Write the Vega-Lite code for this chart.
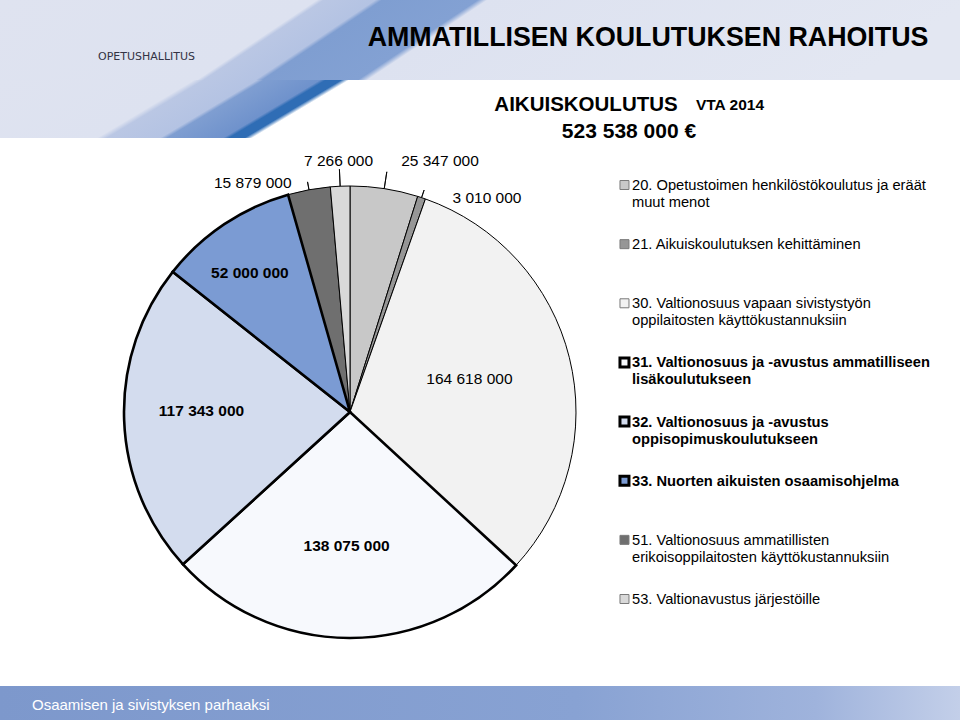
{
  "$schema": "https://vega.github.io/schema/vega-lite/v6.json",
  "background": "white",
  "padding": 0,
  "spacing": 0,
  "bounds": "flush",
  "config": {"view": {"stroke": null}, "font": "Liberation Sans"},
  "datasets": {
    "budget": [
      {"code": "20", "value": 25347000, "label": "25 347 000", "name": "20. Opetustoimen henkilöstökoulutus ja eräät\nmuut menot"},
      {"code": "21", "value": 3010000, "label": "3 010 000", "name": "21. Aikuiskoulutuksen kehittäminen"},
      {"code": "30", "value": 164618000, "label": "164 618 000", "name": "30. Valtionosuus vapaan sivistystyön\noppilaitosten käyttökustannuksiin"},
      {"code": "31", "value": 138075000, "label": "138 075 000", "name": "31. Valtionosuus ja -avustus ammatilliseen\nlisäkoulutukseen"},
      {"code": "32", "value": 117343000, "label": "117 343 000", "name": "32. Valtionosuus ja -avustus\noppisopimuskoulutukseen"},
      {"code": "33", "value": 52000000, "label": "52 000 000", "name": "33. Nuorten aikuisten osaamisohjelma"},
      {"code": "51", "value": 15879000, "label": "15 879 000", "name": "51. Valtionosuus ammatillisten\nerikoisoppilaitosten käyttökustannuksiin"},
      {"code": "53", "value": 7266000, "label": "7 266 000", "name": "53. Valtionavustus järjestöille"}
    ],
    "blank": [{"k": 1}]
  },
  "vconcat": [
    {
      "width": 960,
      "height": 80,
      "data": {"name": "blank"},
      "layer": [
        {"mark": {"type": "rect", "fill": {"gradient": "linear", "x1": 0, "y1": 0, "x2": 1, "y2": 0.125, "stops": [
          {"offset": 0, "color": "#dfe3f0"}, {"offset": 0.325, "color": "#dde2f0"}, {"offset": 0.332, "color": "#bac7e4"},
          {"offset": 0.385, "color": "#b4c3e3"}, {"offset": 0.392, "color": "#7f9ed1"}, {"offset": 0.49, "color": "#83a1d3"},
          {"offset": 0.5, "color": "#dde2f0"}, {"offset": 1, "color": "#e3e7f2"}]}}, "encoding": {}},
        {"mark": {"type": "text", "text": "AMMATILLISEN KOULUTUKSEN RAHOITUS", "fontSize": 26.8, "fontWeight": "bold", "color": "#000000", "align": "center", "baseline": "middle", "dx": 168, "dy": -2}, "encoding": {}},
        {"mark": {"type": "text", "text": "OPETUSHALLITUS", "font": "DejaVu Sans", "fontSize": 11, "color": "#333344", "align": "left", "baseline": "middle", "dx": -382, "dy": 17}, "encoding": {}}
      ]
    },
    {
      "width": 960,
      "height": 58,
      "data": {"name": "blank"},
      "layer": [
        {"mark": {"type": "rect", "fill": {"gradient": "linear", "x1": 0, "y1": 0, "x2": 1, "y2": 0.101, "stops": [
          {"offset": 0, "color": "#dfe3f0"}, {"offset": 0.2, "color": "#dde2f0"}, {"offset": 0.21, "color": "#bac7e4"},
          {"offset": 0.265, "color": "#b4c3e3"}, {"offset": 0.272, "color": "#7f9ed1"}, {"offset": 0.33, "color": "#6f92cc"},
          {"offset": 0.336, "color": "#2f6db5"}, {"offset": 0.352, "color": "#2f6db5"}, {"offset": 0.36, "color": "#ffffff"}, {"offset": 1, "color": "#ffffff"}]}}, "encoding": {}},
        {"mark": {"type": "text", "text": "AIKUISKOULUTUS", "fontSize": 20.5, "fontWeight": "bold", "color": "#000000", "align": "center", "baseline": "middle", "dx": 106, "dy": -4.5}, "encoding": {}},
        {"mark": {"type": "text", "text": "VTA 2014", "fontSize": 15.5, "fontWeight": "bold", "color": "#000000", "align": "center", "baseline": "middle", "dx": 250, "dy": -4}, "encoding": {}},
        {"mark": {"type": "text", "text": "523 538 000 €", "fontSize": 21, "fontWeight": "bold", "color": "#000000", "align": "center", "baseline": "middle", "dx": 149, "dy": 22.5}, "encoding": {}}
      ]
    },
    {
      "width": 700,
      "height": 548,
      "data": {"name": "budget"},
      "layer": [
        {
          "mark": {"type": "arc", "outerRadius": 226, "stroke": "#000000", "strokeWidth": 1},
          "encoding": {
            "theta": {"field": "value", "type": "quantitative", "stack": true},
            "order": {"field": "code", "type": "ordinal"},
            "color": {"field": "code", "type": "nominal", "legend": null,
              "scale": {"domain": ["20","21","30","31","32","33","51","53"], "range": ["#c8c8c8","#969696","#f2f2f2","#f7f9fd","#d3dcee","#7b9bd3","#6f6f6f","#d9d9d9"]}}
          }
        },
        {
          "mark": {"type": "arc", "outerRadius": 226, "stroke": "#000000", "strokeWidth": 2.6},
          "encoding": {
            "theta": {"field": "value", "type": "quantitative", "stack": true},
            "order": {"field": "code", "type": "ordinal"},
            "color": {"field": "code", "type": "nominal", "legend": null},
            "opacity": {"condition": {"test": "indexof(['31','32','33'], datum.code) >= 0", "value": 1}, "value": 0}
          }
        },
        {
          "mark": {"type": "arc", "innerRadius": 226, "outerRadius": 243, "padAngle": 3.14, "fill": "transparent", "stroke": "#000000", "strokeWidth": 0.9},
          "encoding": {
            "theta": {"field": "value", "type": "quantitative", "stack": true},
            "order": {"field": "code", "type": "ordinal"},
            "strokeOpacity": {"condition": {"test": "indexof(['20','53'], datum.code) >= 0", "value": 1}, "value": 0}
          }
        },
        {
          "mark": {"type": "arc", "innerRadius": 226, "outerRadius": 234, "padAngle": 3.14, "fill": "transparent", "stroke": "#000000", "strokeWidth": 0.9},
          "encoding": {
            "theta": {"field": "value", "type": "quantitative", "stack": true},
            "order": {"field": "code", "type": "ordinal"},
            "strokeOpacity": {"condition": {"test": "indexof(['21','51'], datum.code) >= 0", "value": 1}, "value": 0}
          }
        },
        {
          "mark": {"type": "text", "radius": 254, "dx": 51.5, "dy": 0, "fontSize": 15.5, "color": "#000000", "baseline": "middle"},
          "encoding": {
            "theta": {"field": "value", "type": "quantitative", "stack": true},
            "order": {"field": "code", "type": "ordinal"},
            "text": {"condition": {"test": "datum.code === '20'", "field": "label"}, "value": ""}
          }
        },
        {
          "mark": {"type": "text", "radius": 226, "dx": 65.4, "dy": 0, "fontSize": 15.5, "color": "#000000", "baseline": "middle"},
          "encoding": {
            "theta": {"field": "value", "type": "quantitative", "stack": true},
            "order": {"field": "code", "type": "ordinal"},
            "text": {"condition": {"test": "datum.code === '21'", "field": "label"}, "value": ""}
          }
        },
        {
          "mark": {"type": "text", "radius": 123, "dx": 0, "dy": -3, "fontSize": 15.5, "color": "#000000", "baseline": "middle"},
          "encoding": {
            "theta": {"field": "value", "type": "quantitative", "stack": true},
            "order": {"field": "code", "type": "ordinal"},
            "text": {"condition": {"test": "datum.code === '30'", "field": "label"}, "value": ""}
          }
        },
        {
          "mark": {"type": "text", "radius": 134, "dx": -3, "dy": 0, "fontSize": 15.5, "fontWeight": "bold", "color": "#000000", "baseline": "middle"},
          "encoding": {
            "theta": {"field": "value", "type": "quantitative", "stack": true},
            "order": {"field": "code", "type": "ordinal"},
            "text": {"condition": {"test": "datum.code === '31'", "field": "label"}, "value": ""}
          }
        },
        {
          "mark": {"type": "text", "radius": 148.6, "dx": 0, "dy": -6.5, "fontSize": 15.5, "fontWeight": "bold", "color": "#000000", "baseline": "middle"},
          "encoding": {
            "theta": {"field": "value", "type": "quantitative", "stack": true},
            "order": {"field": "code", "type": "ordinal"},
            "text": {"condition": {"test": "datum.code === '32'", "field": "label"}, "value": ""}
          }
        },
        {
          "mark": {"type": "text", "radius": 171, "dx": -5, "dy": 3, "fontSize": 15.5, "fontWeight": "bold", "color": "#000000", "baseline": "middle"},
          "encoding": {
            "theta": {"field": "value", "type": "quantitative", "stack": true},
            "order": {"field": "code", "type": "ordinal"},
            "text": {"condition": {"test": "datum.code === '33'", "field": "label"}, "value": ""}
          }
        },
        {
          "mark": {"type": "text", "radius": 233, "dx": -55, "dy": 0, "fontSize": 15.5, "color": "#000000", "baseline": "middle"},
          "encoding": {
            "theta": {"field": "value", "type": "quantitative", "stack": true},
            "order": {"field": "code", "type": "ordinal"},
            "text": {"condition": {"test": "datum.code === '51'", "field": "label"}, "value": ""}
          }
        },
        {
          "mark": {"type": "text", "radius": 251.5, "dx": -0.5, "dy": 0, "fontSize": 15.5, "color": "#000000", "baseline": "middle"},
          "encoding": {
            "theta": {"field": "value", "type": "quantitative", "stack": true},
            "order": {"field": "code", "type": "ordinal"},
            "text": {"condition": {"test": "datum.code === '53'", "field": "label"}, "value": ""}
          }
        },
        {
          "mark": {"type": "point", "shape": "square", "filled": true, "size": 81, "opacity": 1},
          "encoding": {
            "x": {"datum": "legend", "type": "nominal", "axis": null, "scale": {"type": "point", "padding": 0, "align": 0.8921}},
            "y": {"field": "code", "type": "nominal", "axis": null, "scale": {"type": "point", "domain": ["20","21","30","31","32","33","51","53"], "range": [47, 461], "padding": 0}},
            "color": {"field": "code", "type": "nominal", "legend": null},
            "stroke": {"condition": {"test": "indexof(['31','32','33'], datum.code) >= 0", "value": "#000000"}, "value": "#7a7a7a"},
            "strokeWidth": {"condition": {"test": "indexof(['31','32','33'], datum.code) >= 0", "value": 3}, "value": 1}
          }
        },
        {
          "transform": [{"filter": "indexof(['31','32','33'], datum.code) < 0"}],
          "mark": {"type": "text", "align": "left", "baseline": "top", "dx": 7.5, "dy": -7, "fontSize": 14.7, "lineBreak": "\n", "lineHeight": 17, "color": "#000000"},
          "encoding": {
            "x": {"datum": "legend", "type": "nominal", "axis": null},
            "y": {"field": "code", "type": "nominal", "axis": null},
            "text": {"field": "name"}
          }
        },
        {
          "transform": [{"filter": "indexof(['31','32','33'], datum.code) >= 0"}],
          "mark": {"type": "text", "align": "left", "baseline": "top", "dx": 7.5, "dy": -7, "fontSize": 14.7, "fontWeight": "bold", "lineBreak": "\n", "lineHeight": 17, "color": "#000000"},
          "encoding": {
            "x": {"datum": "legend", "type": "nominal", "axis": null},
            "y": {"field": "code", "type": "nominal", "axis": null},
            "text": {"field": "name"}
          }
        }
      ]
    },
    {
      "width": 960,
      "height": 34,
      "data": {"name": "blank"},
      "layer": [
        {"mark": {"type": "rect", "fill": {"gradient": "linear", "x1": 0, "y1": 0, "x2": 1, "y2": 0, "stops": [
          {"offset": 0, "color": "#7d98cc"}, {"offset": 0.6, "color": "#88a2d3"}, {"offset": 0.85, "color": "#9fb3dc"}, {"offset": 1, "color": "#c3cfe9"}]}}, "encoding": {}},
        {"mark": {"type": "text", "text": "Osaamisen ja sivistyksen parhaaksi", "fontSize": 15, "color": "#ffffff", "align": "left", "baseline": "middle", "dx": -448, "dy": 2}, "encoding": {}}
      ]
    }
  ]
}
